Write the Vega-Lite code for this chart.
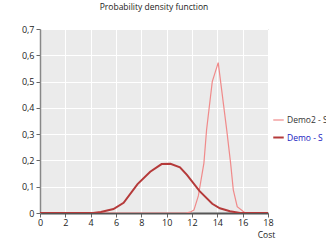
{
  "$schema": "https://vega.github.io/schema/vega-lite/v6.json",
  "width": 228,
  "height": 184,
  "autosize": {"type": "none"},
  "padding": {"left": 40, "top": 29, "right": 58, "bottom": 27},
  "background": "white",
  "title": {"text": "Probability density function", "fontSize": 8.5, "font": "Open Sans", "fontWeight": "normal", "color": "#222", "offset": 14, "anchor": "middle"},
  "config": {
    "view": {"fill": "#ebebeb", "stroke": "#a0a0a0", "strokeWidth": 1},
    "font": "Open Sans"
  },
  "data": {
    "values": [
      {"cost": 0, "pdf": 0, "series": "Demo2 - S"},
      {"cost": 11.5, "pdf": 0, "series": "Demo2 - S"},
      {"cost": 11.85, "pdf": 0.003, "series": "Demo2 - S"},
      {"cost": 12.15, "pdf": 0.011, "series": "Demo2 - S"},
      {"cost": 12.5, "pdf": 0.065, "series": "Demo2 - S"},
      {"cost": 12.94, "pdf": 0.19, "series": "Demo2 - S"},
      {"cost": 13.15, "pdf": 0.316, "series": "Demo2 - S"},
      {"cost": 13.6, "pdf": 0.5, "series": "Demo2 - S"},
      {"cost": 14.07, "pdf": 0.572, "series": "Demo2 - S"},
      {"cost": 14.74, "pdf": 0.316, "series": "Demo2 - S"},
      {"cost": 15.05, "pdf": 0.189, "series": "Demo2 - S"},
      {"cost": 15.26, "pdf": 0.088, "series": "Demo2 - S"},
      {"cost": 15.57, "pdf": 0.024, "series": "Demo2 - S"},
      {"cost": 16.2, "pdf": 0, "series": "Demo2 - S"},
      {"cost": 18, "pdf": 0, "series": "Demo2 - S"},
      {"cost": 0, "pdf": 0, "series": "Demo - S"},
      {"cost": 4.2, "pdf": 0, "series": "Demo - S"},
      {"cost": 4.8, "pdf": 0.004, "series": "Demo - S"},
      {"cost": 5.8, "pdf": 0.015, "series": "Demo - S"},
      {"cost": 6.6, "pdf": 0.039, "series": "Demo - S"},
      {"cost": 7.7, "pdf": 0.11, "series": "Demo - S"},
      {"cost": 8.7, "pdf": 0.157, "series": "Demo - S"},
      {"cost": 9.6, "pdf": 0.186, "series": "Demo - S"},
      {"cost": 10.3, "pdf": 0.187, "series": "Demo - S"},
      {"cost": 11.05, "pdf": 0.174, "series": "Demo - S"},
      {"cost": 11.6, "pdf": 0.145, "series": "Demo - S"},
      {"cost": 12.6, "pdf": 0.083, "series": "Demo - S"},
      {"cost": 13.6, "pdf": 0.035, "series": "Demo - S"},
      {"cost": 14.2, "pdf": 0.018, "series": "Demo - S"},
      {"cost": 15.0, "pdf": 0.007, "series": "Demo - S"},
      {"cost": 15.8, "pdf": 0, "series": "Demo - S"},
      {"cost": 18, "pdf": 0, "series": "Demo - S"}
    ]
  },
  "mark": {"type": "line", "clip": true},
  "encoding": {
    "x": {
      "field": "cost", "type": "quantitative",
      "scale": {"domain": [0, 18], "nice": false},
      "axis": {
        "values": [0, 2, 4, 6, 8, 10, 12, 14, 16, 18],
        "title": "Cost", "titleFontSize": 8.5, "titleFontWeight": "normal", "titleColor": "#222",
        "titleAnchor": "end", "titleAlign": "center", "titleBaseline": "bottom", "titleX": 226, "titleY": 26,
        "labelFontSize": 9, "labelColor": "#222", "labelPadding": 1,
        "tickSize": 4, "tickColor": "#666", "domainColor": "#555", "domainWidth": 2,
        "gridColor": "white", "gridWidth": 1, "labelFlush": false
      }
    },
    "y": {
      "field": "pdf", "type": "quantitative",
      "scale": {"domain": [0, 0.7], "nice": false},
      "axis": {
        "values": [0, 0.1, 0.2, 0.3, 0.4, 0.5, 0.6, 0.7],
        "title": null,
        "labelExpr": "datum.value == 0 ? '0' : replace(format(datum.value, '.1f'), '.', ',')",
        "labelFontSize": 9, "labelColor": "#222", "labelPadding": 2,
        "tickSize": 4, "tickColor": "#666", "domainColor": "#888", "domainWidth": 1.5,
        "gridColor": "white", "gridWidth": 1
      }
    },
    "color": {
      "field": "series", "type": "nominal",
      "scale": {"domain": ["Demo2 - S", "Demo - S"], "range": ["#f08a8a", "#b53a3a"]},
      "legend": {
        "title": null, "orient": "none", "legendX": 232, "legendY": 85,
        "symbolType": "stroke", "symbolSize": 110, "symbolStrokeWidth": 2,
        "labelFontSize": 8.5, "rowPadding": 6, "labelOffset": 2, "labelLimit": 200,
        "encode": {"labels": {"update": {"fill": {"signal": "datum.label == 'Demo - S' ? '#2020c0' : '#333333'"}}}}
      }
    },
    "strokeWidth": {
      "field": "series", "type": "nominal",
      "scale": {"domain": ["Demo2 - S", "Demo - S"], "range": [1.2, 2]},
      "legend": null
    }
  }
}
